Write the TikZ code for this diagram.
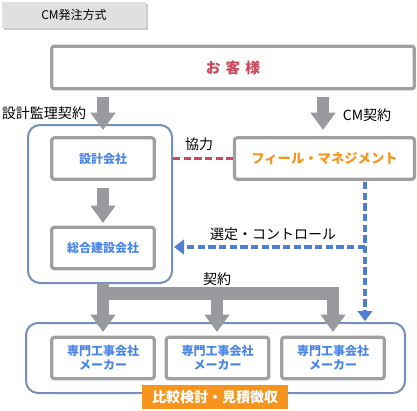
\documentclass[tikz,border=0pt]{standalone}
\usepackage{fontspec}
\setmainfont{Noto Sans CJK JP}
\usetikzlibrary{arrows.meta,shadows}
\definecolor{gbord}{HTML}{A0A0A0}
\definecolor{garrow}{HTML}{999A9E}
\definecolor{cblue}{HTML}{4A86E8}
\definecolor{lblue}{HTML}{4F7FD0}
\definecolor{cont}{HTML}{7490B8}
\definecolor{cred}{HTML}{C84A5C}
\definecolor{corange}{HTML}{F7941D}
\definecolor{tbox}{HTML}{E0E0E0}
\tikzset{
  gbox/.style={draw=gbord, line width=2.4pt, rounded corners=2pt, fill=white},
  cbox/.style={draw=cont, line width=1.5pt, rounded corners=9pt},
  fat/.style={draw=garrow, line width=9pt, -{Triangle[width=18pt,length=13pt]}},
  bdash/.style={draw=lblue, line width=2.8pt, dash pattern=on 5.5pt off 2.5pt},
  lbl/.style={font=\fontsize{10.5pt}{12pt}\selectfont, text=black, inner sep=0pt},
  btxt/.style={font=\bfseries\fontsize{9pt}{10.5pt}\selectfont, text=cblue, align=center, inner sep=0pt}
}
\begin{document}
\begin{tikzpicture}[x=0.75pt,y=-0.75pt]
\useasboundingbox (0,0) rectangle (417,410);
% title
\fill[black!20] (4,4) rectangle (148,30);
\node[fill=tbox, minimum width=108pt, minimum height=19.5pt, inner sep=0pt,
  font=\fontsize{9pt}{10pt}\selectfont] (title) at (74,15) {CM発注方式};
% containers
\draw[cbox] (28,125) rectangle (172,283);
\draw[cbox] (26,323) rectangle (405,393);
% customer
\node[gbox, minimum width=272pt, minimum height=32pt, inner sep=0pt,
  font=\bfseries\fontsize{11pt}{13pt}\selectfont, text=cred] (cust) at (233,67.5) {お\hspace{0.35em}客\hspace{0.35em}様};
% arrows from customer
\coordinate (a1s) at (103,97);
\coordinate (a1e) at (103,130);
\coordinate (a2s) at (323,97);
\coordinate (a2e) at (323,130);
\draw[fat] (a1s) -- (a1e);
\draw[fat] (a2s) -- (a2e);
\node[lbl] (l1) at (44,113) {設計監理契約};
\node[lbl] (l2) at (367,115) {CM契約};
% boxes
\node[gbox, minimum width=77pt, minimum height=31pt, inner sep=0pt] (sekkei) at (103,158.5) {};
\node[btxt] at (sekkei) {設計会社};
\node[gbox, minimum width=135pt, minimum height=31pt, inner sep=0pt] (fm) at (324.5,158.5) {};
\node[btxt, text=corange, font=\bfseries\fontsize{10pt}{12pt}\selectfont] at (fm) {フィール・マネジメント};
\node[gbox, minimum width=77pt, minimum height=31pt, inner sep=0pt] (sougou) at (103,248) {};
\node[btxt] at (sougou) {総合建設会社};
% cooperation
\draw[draw=cred, line width=2.8pt, dash pattern=on 5.5pt off 2.5pt] (sekkei.east) ++(17,0) coordinate (r1) -- (fm.west);
\node[lbl] (kyo) at (199,144) {協力};
% arrow sekkei -> sougou
\coordinate (b1) at (103,188);
\coordinate (b2) at (103,223);
\draw[fat] (b1) -- (b2);
% blue control
\coordinate (v1) at (365,182);
\coordinate (v2) at (365,247);
\coordinate (v3) at (365,321);
\coordinate (h2) at (174,247);
\draw[bdash, -{Triangle[width=11pt,length=7.5pt]}] (v1) -- (v3);
\draw[bdash, -{Triangle[width=11pt,length=7.5pt]}] (v2) -- (h2);
\node[lbl] (sentei) at (273,234) {選定・コントロール};
% contract bar
\fill[garrow] (97,287) rectangle (339,300);
\coordinate (c0) at (103,283);
\coordinate (c1) at (103,332);
\coordinate (m0) at (217,290);
\coordinate (m1) at (217,332);
\coordinate (r0) at (333,290);
\coordinate (rr1) at (333,332);
\draw[fat] (c0) -- (c1);
\draw[fat] (m0) -- (m1);
\draw[fat] (r0) -- (rr1);
\node[lbl] (kei) at (217,279) {契約};
% makers
\node[gbox, minimum width=77pt, minimum height=31pt, inner sep=0pt] (mk1) at (103,358) {};
\node[btxt] at (mk1) {専門工事会社\\メーカー};
\node[gbox, minimum width=77pt, minimum height=31pt, inner sep=0pt] (mk2) at (217.5,358) {};
\node[btxt] at (mk2) {専門工事会社\\メーカー};
\node[gbox, minimum width=77pt, minimum height=31pt, inner sep=0pt] (mk3) at (333,358) {};
\node[btxt] at (mk3) {専門工事会社\\メーカー};
% orange label
\node[fill=corange, minimum width=109.5pt, minimum height=18pt, inner sep=0pt,
  text=white, font=\bfseries\fontsize{10.5pt}{12pt}\selectfont] (hikaku) at (215,397) {比較検討・見積徴収};
\end{tikzpicture}
\end{document}
